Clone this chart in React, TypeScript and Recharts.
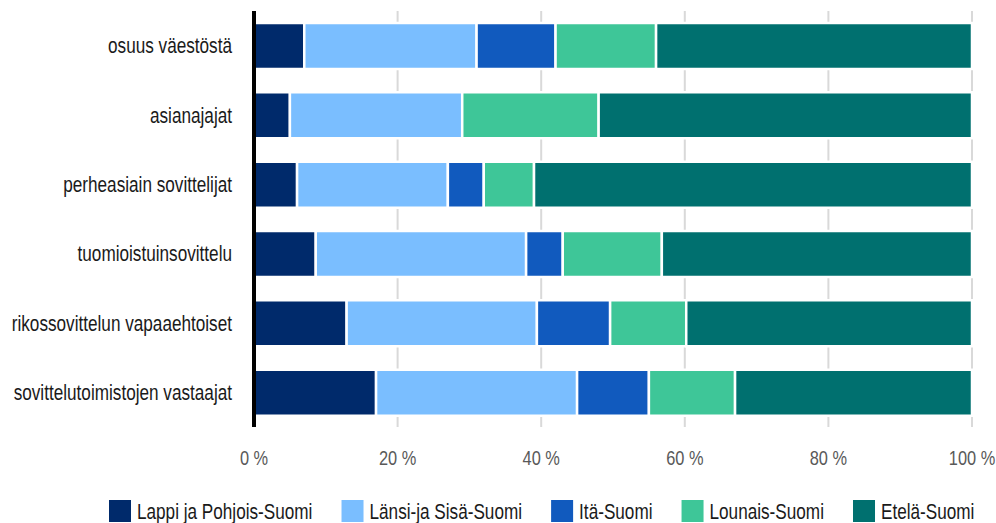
import React from 'react';
import { BarChart, Bar, XAxis, YAxis, CartesianGrid } from 'recharts';

const categories = [
  'osuus väestöstä',
  'asianajajat',
  'perheasiain sovittelijat',
  'tuomioistuinsovittelu',
  'rikossovittelun vapaaehtoiset',
  'sovittelutoimistojen vastaajat',
];
const lappi = [7, 5, 6, 8.6, 12.9, 17];
const lansi = [24, 24, 21, 29.3, 26.5, 28];
const ita = [11, 0, 5, 5.1, 10.2, 10];
const lounais = [14, 19, 7, 13.8, 10.6, 12];
const etela = [44, 52, 61, 43.2, 39.8, 33];
const xTicks = [0, 20, 40, 60, 80, 100];

const seriesNames = ['Lappi ja Pohjois-Suomi', 'Länsi-ja Sisä-Suomi', 'Itä-Suomi', 'Lounais-Suomi', 'Etelä-Suomi'];
const seriesKeys = ['lappi', 'lansi', 'ita', 'lounais', 'etela'];
const seriesColors = ['#002A6B', '#7ABEFF', '#115ABE', '#3EC698', '#00706F'];
const seriesValues = [lappi, lansi, ita, lounais, etela];

const data = categories.map((name, i) => {
  const row: Record<string, any> = { name };
  seriesKeys.forEach((k, s) => {
    row[k] = seriesValues[s][i];
  });
  return row;
});

const FONT = "'Liberation Sans', Arial, sans-serif";
const SX = 0.78; // horizontal condensation to mimic a narrow face
const LABEL_SIZE = 22;

function YTick(props: any) {
  const { x, y, payload } = props;
  return (
    <text
      transform={`translate(${x},${y}) scale(${SX},1)`}
      x={0}
      y={0}
      dy="0.35em"
      textAnchor="end"
      fill="#1a1a1a"
      fontSize={LABEL_SIZE}
      fontFamily={FONT}
    >
      {payload.value}
    </text>
  );
}

function XTick(props: any) {
  const { x, y, payload } = props;
  return (
    <text
      transform={`translate(${x},${y}) scale(${SX},1)`}
      x={0}
      y={0}
      dy="0.71em"
      textAnchor="middle"
      fill="#595959"
      fontSize={21}
      fontFamily={FONT}
    >
      {`${payload.value} %`}
    </text>
  );
}

function measure(text: string, size: number) {
  const c = document.createElement('canvas').getContext('2d');
  if (!c) return text.length * size * 0.4;
  c.font = `${size}px ${FONT}`;
  return c.measureText(text).width * SX;
}

function LegendRow() {
  let cursor = 0;
  const items = seriesNames.map((n, s) => {
    const left = cursor;
    const w = measure(n, LABEL_SIZE);
    cursor += 22 + 6 + w + 29;
    return (
      <g key={n} transform={`translate(${left},0)`}>
        <rect x={0} y={0} width={22} height={22} fill={seriesColors[s]} />
        <text
          transform={`translate(28,11) scale(${SX},1)`}
          x={0}
          y={0}
          dy="0.35em"
          fill="#1a1a1a"
          fontSize={LABEL_SIZE}
          fontFamily={FONT}
        >
          {n}
        </text>
      </g>
    );
  });
  return (
    <svg width={996} height={23} style={{ position: 'absolute', left: 0, top: 500 }}>
      <g transform="translate(109,0)">{items}</g>
    </svg>
  );
}

export default function App() {
  return (
    <div style={{ position: 'absolute', left: 0, top: 0, width: 996, height: 523, background: '#fff', fontFamily: FONT }}>
      <BarChart
        width={996}
        height={523}
        data={data}
        layout="vertical"
        margin={{ top: 11, right: 24, bottom: 66, left: 0 }}
        barSize={46}
      >
        <CartesianGrid horizontal={false} stroke="#d9d9d9" strokeWidth={2} />
        <XAxis
          type="number"
          domain={[0, 100]}
          ticks={xTicks}
          axisLine={false}
          tickLine={false}
          tickSize={0}
          tickMargin={23}
          height={30}
          tick={<XTick />}
        />
        <YAxis
          type="category"
          dataKey="name"
          width={254}
          axisLine={{ stroke: '#000', strokeWidth: 4 }}
          tickLine={false}
          tickSize={0}
          tickMargin={22}
          tick={<YTick />}
        />
        {seriesKeys.map((k, s) => (
          <Bar
            key={k}
            dataKey={k}
            name={seriesNames[s]}
            stackId="a"
            fill={seriesColors[s]}
            stroke="#fff"
            strokeWidth={2.5}
            isAnimationActive={false}
          />
        ))}
      </BarChart>
      <LegendRow />
    </div>
  );
}
